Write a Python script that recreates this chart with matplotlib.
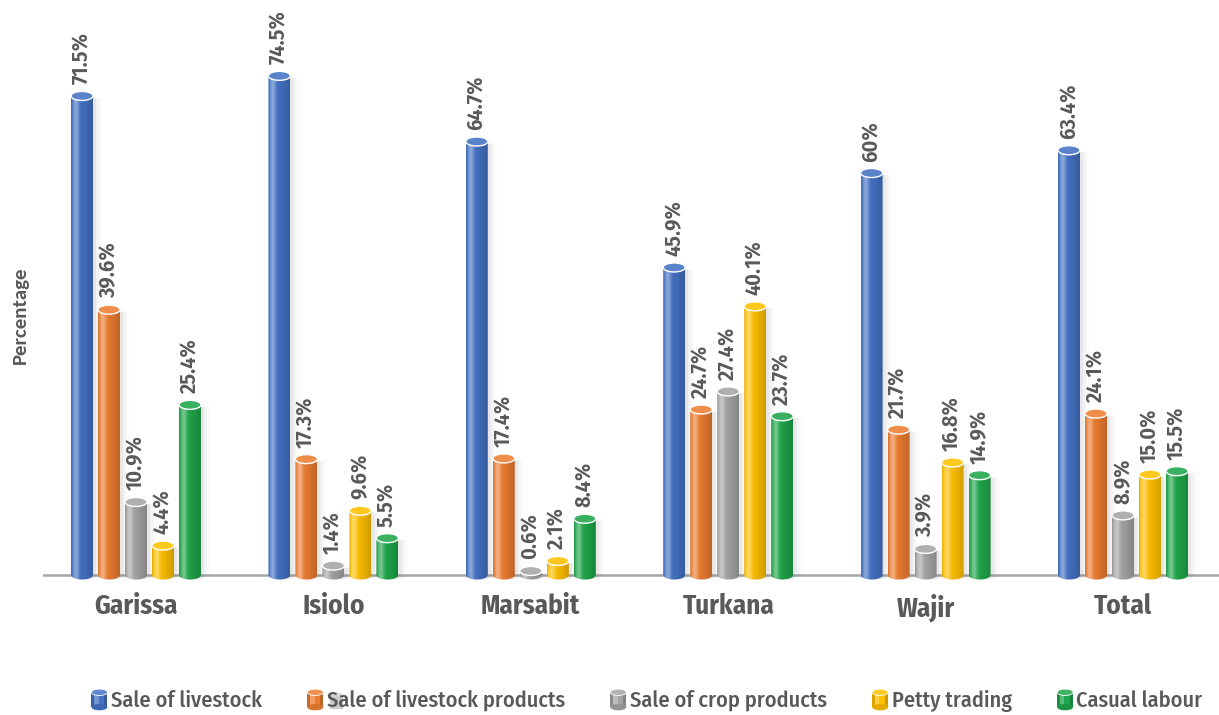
import numpy as np
import matplotlib
matplotlib.use("Agg")
import matplotlib.pyplot as plt
from matplotlib import font_manager as fm
from matplotlib.patches import Ellipse, Rectangle, Polygon
from matplotlib.legend_handler import HandlerBase
from matplotlib.colors import to_rgb

# ---------------- data ----------------
categories = ["Garissa", "Isiolo", "Marsabit", "Turkana", "Wajir", "Total"]
series_names = ["Sale of livestock", "Sale of livestock products",
                "Sale of crop products", "Petty trading", "Casual labour"]
sale_livestock = [71.5, 74.5, 64.7, 45.9, 60.0, 63.4]
sale_livestock_products = [39.6, 17.3, 17.4, 24.7, 21.7, 24.1]
sale_crop_products = [10.9, 1.4, 0.6, 27.4, 3.9, 8.9]
petty_trading = [4.4, 9.6, 2.1, 40.1, 16.8, 15.0]
casual_labour = [25.4, 5.5, 8.4, 23.7, 14.9, 15.5]
sale_livestock_labels = ["71.5%", "74.5%", "64.7%", "45.9%", "60%", "63.4%"]

series_values = [sale_livestock, sale_livestock_products, sale_crop_products,
                 petty_trading, casual_labour]
series_labels = [sale_livestock_labels] + [[f"{v:.1f}%" for v in s] for s in series_values[1:]]
colors = ["#4472C4", "#ED7D31", "#A5A5A5", "#FFC000", "#1FA64A"]

# ---------------- fonts ----------------
available = set(f.name for f in fm.fontManager.ttflist)


def pick(cands):
    for c in cands:
        if c in available:
            return [c, "DejaVu Sans"]
    return ["DejaVu Sans"]


COND = pick(["Fira Sans Condensed", "Roboto Condensed", "Open Sans Condensed",
             "Encode Sans Condensed", "Barlow Semi Condensed", "Sofia Sans Condensed",
             "Liberation Sans Narrow"])
YLAB = pick(["Carlito", "Calibri", "Open Sans", "Liberation Sans"])

# ---------------- layout ----------------
W, H = 1219, 715
fig = plt.figure(figsize=(W / 100, H / 100), dpi=100)
plt.rcParams["font.family"] = COND
TXT = "#595959"

px_per_unit_x = 197.4      # pixels per category
px_per_unit_y = 6.70       # pixels per percent
base_px = 575              # baseline y pixel (from top)
ax_left, ax_right = 43, 1219
ybot = -2.5
ax_bottom_px = base_px - ybot * px_per_unit_y
ymax = base_px / px_per_unit_y
ax = fig.add_axes([ax_left / W, 1 - ax_bottom_px / H, (ax_right - ax_left) / W, ax_bottom_px / H])
x0c = 136
xlim = ((ax_left - x0c) / px_per_unit_x, (ax_right - x0c) / px_per_unit_x)

bw = 22 / px_per_unit_x
step = 27 / px_per_unit_x
eh = 9 / px_per_unit_y


def shade_row(c, n=80):
    c = np.array(to_rgb(c))
    t = np.linspace(0, 1, n)
    a = 0.38 * np.exp(-((t - 0.22) / 0.14) ** 2)
    b = 0.20 * t ** 2 + 0.10 * np.exp(-(t / 0.06) ** 2)
    col = c[None, :] * (1 - b[:, None])
    col = col + (1 - col) * a[:, None]
    return np.clip(col[None, :, :], 0, 1)


def body_path(xc, h):
    th = np.linspace(np.pi, 2 * np.pi, 40)
    arc = np.column_stack([xc + bw / 2 * np.cos(th), eh / 2 * np.sin(th)])
    pts = np.vstack([[xc - bw / 2, h], arc, [xc + bw / 2, h]])
    return pts


def draw_cyl(xc, h, color):
    # soft shadow
    for off, al in [(3, 0.10), (6, 0.06), (9, 0.03)]:
        pts = body_path(xc + off / px_per_unit_x, h - 0.3)
        ax.add_patch(Polygon(pts, closed=True, facecolor="#808080", edgecolor="none",
                             alpha=al, zorder=1.5))
    poly = Polygon(body_path(xc, h), closed=True, facecolor="none", edgecolor="none")
    ax.add_patch(poly)
    im = ax.imshow(shade_row(color), extent=(xc - bw / 2, xc + bw / 2, -eh / 2, h),
                   aspect="auto", interpolation="bilinear", zorder=2)
    im.set_clip_path(poly)
    c = np.array(to_rgb(color))
    top = c + (1 - c) * 0.12
    ax.add_patch(Ellipse((xc, h), bw, eh, facecolor=top, edgecolor="white", lw=1.0, zorder=3))


x = np.arange(len(categories))
for si, (vals, labs, col) in enumerate(zip(series_values, series_labels, colors)):
    for ci, (v, lab) in enumerate(zip(vals, labs)):
        xc = x[ci] + (si - 2) * step
        draw_cyl(xc, v, col)
        ax.text(xc, v + eh / 2 + 7 / px_per_unit_y, lab, rotation=90, ha="center", va="bottom",
                fontsize=16, fontweight="semibold", color=TXT, zorder=4)

ax.axhline(0, color="#A6A6A6", lw=1.8, zorder=1)
ax.set_xlim(*xlim)
ax.set_ylim(ybot, ymax)
for s in ax.spines.values():
    s.set_visible(False)
ax.set_yticks([])
ax.set_xticks(x)
ax.set_xticklabels(categories, fontsize=19.5, fontweight="bold", color=TXT)
ax.tick_params(axis="x", length=0, pad=1)
ax.set_ylabel("Percentage", fontsize=15, color=TXT, family=YLAB, fontweight="bold")
ax.yaxis.set_label_coords((29 - ax_left) / (ax_right - ax_left), (ax_bottom_px - 315) / ax_bottom_px)


# ---------------- legend with cylinder icons ----------------
class CylHandler(HandlerBase):
    def create_artists(self, legend, orig, xdescent, ydescent, width, height, fontsize, trans):
        c = np.array(to_rgb(orig.get_facecolor()))
        w = width
        hgt = height * 1.25
        x0 = -xdescent
        y0 = -ydescent - height * 0.15
        e = hgt * 0.3
        arts = []
        strips = [(0.0, 0.15, 0.85), (0.15, 0.45, 1.25), (0.45, 0.8, 1.0), (0.8, 1.0, 0.8)]
        for a, b, f in strips:
            if f > 1:
                cc = c + (1 - c) * (f - 1)
            else:
                cc = c * f
            arts.append(Rectangle((x0 + a * w, y0 + e / 2), (b - a) * w, hgt - e,
                                  facecolor=np.clip(cc, 0, 1), edgecolor="none", transform=trans))
        arts.append(Ellipse((x0 + w / 2, y0 + e / 2), w, e, facecolor=c * 0.9,
                            edgecolor="none", transform=trans))
        arts.append(Ellipse((x0 + w / 2, y0 + hgt - e / 2), w, e, facecolor=c + (1 - c) * 0.15,
                            edgecolor="white", lw=0.6, transform=trans))
        return arts


handles = [Rectangle((0, 0), 1, 1, facecolor=c) for c in colors]
# stray icon artefact behind the second legend entry
fig.patches.append(Rectangle((330 / W, 1 - 709 / H), 13 / W, 14 / H, transform=fig.transFigure,
                             facecolor="#BDBDBD", edgecolor="none", alpha=0.8, zorder=1))
fig.patches.append(Ellipse((336.5 / W, 1 - 695 / H), 13 / W, 5 / H, transform=fig.transFigure,
                           facecolor="#D5D5D5", edgecolor="none", alpha=0.8, zorder=1))
leg = fig.legend(handles, series_names, loc="center", bbox_to_anchor=(647 / W, 1 - 701 / H),
                 ncol=5, frameon=False, prop={"size": 16, "weight": "medium"},
                 handler_map={Rectangle: CylHandler()},
                 handlelength=0.72, handleheight=0.8, handletextpad=0.15, columnspacing=2.05)
for t in leg.get_texts():
    t.set_color(TXT)

fig.savefig("out.png", dpi=100)
